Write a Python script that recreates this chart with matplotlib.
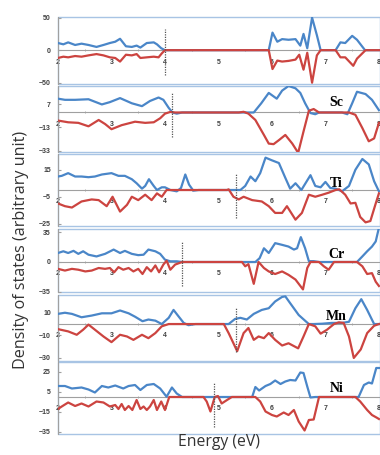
import matplotlib.pyplot as plt
from matplotlib.patches import Rectangle

# spin-resolved DOS, one pair of curves per system (energy in eV)
host_up_e = [2.00, 2.10, 2.19, 2.32, 2.44, 2.57, 2.72, 2.85, 2.97, 3.07, 3.16, 3.27, 3.38, 3.47, 3.54, 3.66, 3.79, 3.85, 3.93, 4.00,
             5.94, 6.01, 6.10, 6.19, 6.31, 6.44, 6.53, 6.59, 6.66, 6.75, 6.84, 6.91,
             7.19, 7.28, 7.37, 7.50, 7.59, 7.74, 8.00]
host_up = [11, 9, 12, 8, 10, 8, 5, 8, 11, 13, 17.5, 6, 5, 7, 4, 11, 12, 9, 3, 0,
           0, 27, 13, 17, 16, 17, 7, 25, 3, 50, 23, 0,
           0, 12, 11, 22, 16, 0, 0]
host_dn_e = [2.00, 2.10, 2.19, 2.32, 2.44, 2.57, 2.72, 2.85, 2.97, 3.07, 3.16, 3.27, 3.38, 3.47, 3.54, 3.66, 3.79, 3.88, 3.94, 4.00,
             5.94, 6.01, 6.10, 6.19, 6.31, 6.44, 6.51, 6.59, 6.66, 6.75, 6.84, 6.91,
             7.19, 7.28, 7.37, 7.52, 7.59, 7.75, 8.00]
host_dn = [-12, -10, -11, -9, -10, -8, -6, -8, -11, -12, -17.5, -7, -8, -6, -12, -11, -10, -11, -5, 0,
           0, -29, -16, -17.5, -16.5, -14.5, -7, -30, -4, -50, -8, 0,
           0, -11, -11, -24, -13, 0, 0]

sc_up_e = [2.00, 2.13, 2.32, 2.57, 2.82, 2.97, 3.16, 3.38, 3.57, 3.72, 3.88, 3.97, 4.07, 4.14, 4.22, 4.32,
           5.66, 5.80, 5.94, 6.09, 6.19, 6.31, 6.44, 6.53, 6.62, 6.72, 6.81, 6.88,
           7.31, 7.41, 7.50, 7.59, 7.75, 7.87, 8.00]
sc_up = [12, 11, 11, 11.5, 7, 9, 12.5, 8, 5.5, 10, 13, 11, 4, 0, -1, 0,
         0, 8, 17, 12, 19, 23, 21, 17, 8, -0.5, -1.5, 0,
         0, -1.5, 8, 18, 16, 11, 2]
sc_dn_e = [2.00, 2.19, 2.38, 2.57, 2.76, 2.88, 3.00, 3.19, 3.44, 3.63, 3.79, 3.91, 4.00, 4.10, 4.19,
           5.38, 5.47, 5.56, 5.69, 5.85, 5.94, 6.03, 6.13, 6.25, 6.38, 6.49, 6.59, 6.69, 6.78, 6.88,
           7.44, 7.56, 7.69, 7.81, 7.91, 8.00]
sc_dn = [-7, -8.5, -9, -12, -6.5, -10, -14.5, -11, -8, -9, -8.5, -5, -1, 0.5, 0,
         0, 0.6, -1, -6.5, -19.5, -27, -27.5, -24, -19.5, -27, -35, -16.5, 1.5, 3, 0,
         0, -2, -13.5, -25, -22.5, -9]

ti_up_e = [2.00, 2.07, 2.19, 2.32, 2.44, 2.57, 2.69, 2.82, 3.00, 3.13, 3.25, 3.38, 3.47, 3.57, 3.63, 3.70, 3.79, 3.85,
           3.94, 4.00, 4.10, 4.22, 4.30, 4.38, 4.45, 4.53, 4.63,
           5.31, 5.41, 5.50, 5.60, 5.69, 5.78, 5.88, 6.00, 6.13, 6.25, 6.34, 6.44, 6.55, 6.72, 6.81, 6.91,
           7.00, 7.09, 7.19, 7.31, 7.44, 7.56, 7.69, 7.81, 7.91, 8.00]
ti_up = [10, 10.5, 12.5, 10, 10, 9.5, 10, 11.5, 12.5, 10.5, 10.5, 8, 5, 1, 3, 8, 3, 0,
         2, 2, 0, -1, 1.5, 11.5, 4, -0.5, 0,
         0, 0, 3, 10, 6.5, 12.5, 24, 22, 20, 9, 1, 5, 0, 11, 3, 2,
         6, 1.5, 1, -1, 3, 15, 23, 19, 6.5, -1]
ti_dn_e = [2.00, 2.13, 2.26, 2.44, 2.63, 2.76, 2.91, 3.02, 3.16, 3.29, 3.38, 3.50, 3.63, 3.75, 3.85, 3.94, 4.03,
           5.16, 5.19, 5.28, 5.38, 5.47, 5.63, 5.81, 5.94, 6.06, 6.19, 6.28, 6.44, 6.56, 6.69, 6.81, 6.94,
           7.06, 7.19, 7.26, 7.37, 7.47, 7.56, 7.65, 7.75, 7.84, 7.94, 8.00]
ti_dn = [-10, -12, -13, -8.5, -7, -7.5, -12, -5, -16, -11, -5, -7.5, -3.5, -7.5, -2.5, -5, 0,
         0, 0.5, -5, -7, -5, -7.5, -8.5, -12, -17, -17, -12, -22, -17, -3.5, -5, -3.5,
         -2, 0, 0.5, -3.5, -10, -9.5, -20, -24, -23, -10, -2.5]

cr_up_e = [2.00, 2.10, 2.19, 2.29, 2.38, 2.47, 2.57, 2.72, 2.88, 3.04, 3.16, 3.25, 3.38, 3.50, 3.60, 3.69, 3.82, 3.91,
           4.00, 4.10, 4.22, 4.32,
           5.69, 5.77, 5.85, 5.94, 6.06, 6.19, 6.31, 6.41, 6.47, 6.54, 6.62, 6.69, 6.78, 6.88,
           7.59, 7.69, 7.78, 7.87, 7.94, 8.00]
cr_up = [10.5, 12.5, 10.5, 13, 9.5, 12.5, 8.5, 6.5, 9.5, 14.5, 10.5, 13, 9.5, 8, 8.5, 14.5, 12.5, 9.5,
         2.7, 0.8, 0.8, 0,
         0, 4.5, 16, 10.5, 22, 20, 18, 14.5, 16, 29, 16, 1, 1, 0,
         0, 6.5, 12.5, 18, 24, 40]
cr_dn_e = [2.00, 2.13, 2.26, 2.38, 2.51, 2.63, 2.76, 2.88, 2.97, 3.05, 3.13, 3.22, 3.32, 3.41, 3.50, 3.58, 3.66, 3.74,
           3.82, 3.89, 3.97, 4.03, 4.10, 4.19, 4.32,
           5.44, 5.50, 5.56, 5.66, 5.75, 5.85, 5.94, 6.06, 6.19, 6.31, 6.44, 6.58, 6.66, 6.72, 6.88, 6.97, 7.06, 7.16,
           7.59, 7.69, 7.78, 7.87, 7.94, 8.00]
cr_dn = [-8, -10, -8, -9, -11, -10, -7, -8, -7, -12, -6, -9, -7, -11, -8, -14, -6, -11,
         -4, -12, -3, 1.5, -9, -3, 0,
         0, -5, -2.5, -25.5, 0, -7, -11, -14, -11, -15, -20.5, -32, -7, 0, 0, -5, -9, 0,
         0, -5, -14, -13, -23, -28]

mn_up_e = [2.00, 2.13, 2.26, 2.44, 2.63, 2.82, 3.00, 3.16, 3.32, 3.44, 3.58, 3.69, 3.82, 3.94, 4.07, 4.16, 4.25, 4.35,
           4.44, 4.57,
           5.19, 5.31, 5.41, 5.53, 5.66, 5.81, 5.94, 6.06, 6.19, 6.25, 6.34, 6.50, 6.63, 6.69, 6.78, 6.94,
           7.12, 7.31, 7.44, 7.56, 7.67, 7.78, 7.91, 8.00]
mn_up = [9, 10, 9, 6, 7.5, 9.5, 9.5, 12, 9.5, 6.5, 2.5, 4, 3, 0, 5.5, 12.5, 7, 1,
         -1, 0,
         0, 4.5, 5.5, 4, 9, 12.5, 14, 20, 24, 24.5, 18.5, 8, 2.5, 0, 0, 0.3,
         1, 1, 2, 14, 22, 12.5, 0, 0]
mn_dn_e = [2.00, 2.19, 2.35, 2.47, 2.57, 2.69, 2.85, 3.00, 3.16, 3.29, 3.41, 3.57, 3.69, 3.82, 3.94, 4.07,
           5.10, 5.19, 5.35, 5.47, 5.56, 5.66, 5.75, 5.85, 5.94, 6.06, 6.19, 6.31, 6.49, 6.59, 6.69, 6.81, 6.91,
           7.03, 7.16, 7.25, 7.34, 7.44, 7.53, 7.66, 7.78, 7.91, 8.00]
mn_dn = [-4.5, -6.5, -9.5, -5, -0.5, -5, -11, -16, -9.5, -11, -14, -9.5, -12.5, -8, -2, 0,
         0, -8, -24, -8, -3.5, -14, -11, -12.5, -8, -14, -19, -17, -21.5, -11, 0, -2, -8.5,
         -5, 0, 1.5, 1, -11, -30, -22.5, -8, -1.5, 0]

ni_up_e = [2.00, 2.13, 2.26, 2.44, 2.57, 2.69, 2.82, 2.94, 3.07, 3.22, 3.32, 3.44, 3.54, 3.66, 3.79, 3.91, 4.03, 4.13,
           4.22, 4.32,
           5.63, 5.69, 5.76, 5.88, 5.97, 6.06, 6.16, 6.25, 6.34, 6.44, 6.53, 6.59, 6.66, 6.72, 6.81,
           7.62, 7.72, 7.81, 7.87, 7.95, 8.00]
ni_up = [11, 11, 8.5, 9.5, 7.5, 4.5, 11, 9.5, 11.5, 8.5, 11, 12, 7, 12, 13, 8.5, 0.3, 9.5,
         3.5, 0,
         0, 10, 6.5, 11, 13, 16.5, 13, 15.5, 17, 16.5, 24.5, 24, 10.5, -0.5, 0,
         0, 12, 14.5, 13.5, 29, 29]
ni_dn_e = [2.00, 2.07, 2.19, 2.32, 2.44, 2.57, 2.72, 2.85, 2.97, 3.07, 3.13, 3.19, 3.25, 3.32, 3.39, 3.47, 3.54, 3.60,
           3.66, 3.72, 3.79, 3.85, 3.93, 4.00, 4.08,
           4.72, 4.78, 4.85, 4.93, 4.99, 5.06, 5.16, 5.25,
           5.69, 5.78, 5.88, 6.00, 6.09, 6.22, 6.31, 6.41, 6.50, 6.61, 6.69, 6.78, 6.88,
           7.56, 7.65, 7.78, 7.87, 7.97, 8.00]
ni_dn = [-12, -9.5, -5.5, -9, -6.5, -9.5, -4.5, -5.5, -9.5, -8, -12, -7, -13, -9, -13, -3, -12, -9.5,
         -13, -9.5, -3, -13, -4.5, -13, 0,
         0, -4.5, -14.5, 0, 1, -6.5, -3, 0,
         0, -4.5, -14.5, -18, -19.5, -15.5, -18, -13, -24.5, -33.5, -23, -22.5, 0,
         0, -4.5, -13, -18, -21, -22]

names = ['', 'Sc', 'Ti', 'Cr', 'Mn', 'Ni']
name_y = [0, 9, 5, 9, 6.5, 8]
name_e = 7.21
fermi_e = [4.00, 4.14, 5.33, 4.32, 5.33, 4.91]
fermi_lo = [-38, -21, -20.7, -28, -24.5, -30]
fermi_hi = [33, 18, 12.6, 24.5, 15, 15]
yticks = [[-50, 0, 50], [-33, -13, 7], [-25, -5, 15], [-35, 0, 35], [-30, -10, 10], [-35, -15, 5, 25]]
ylims = [(-52, 51), (-34.3, 23), (-26.7, 26.7), (-35, 38.5), (-32.7, 25.7), (-37, 35)]
xticks = [2, 3, 4, 5, 6, 7, 8]

curves = [(host_up_e, host_up, host_dn_e, host_dn),
          (sc_up_e, sc_up, sc_dn_e, sc_dn),
          (ti_up_e, ti_up, ti_dn_e, ti_dn),
          (cr_up_e, cr_up, cr_dn_e, cr_dn),
          (mn_up_e, mn_up, mn_dn_e, mn_dn),
          (ni_up_e, ni_up, ni_dn_e, ni_dn)]

BLUE = '#4a86c8'
RED = '#cc4440'
FRAME = '#a8c4e4'
AXIS = '#a0a0a0'

W, H = 380, 455
tops = [17, 86, 154, 229, 295, 362]
bottoms = [84, 152, 226, 292, 361, 434]
left, right = 58, 380

fig = plt.figure(figsize=(W / 100, H / 100), dpi=100)

for i in range(6):
    ax = fig.add_axes([left / W, 1 - bottoms[i] / H, (right - left) / W, (bottoms[i] - tops[i]) / H])
    ue, u, de, d = curves[i]
    ax.plot(ue, u, color=BLUE, lw=1.6, solid_joinstyle='round', zorder=3)
    ax.plot(de, d, color=RED, lw=1.6, solid_joinstyle='round', zorder=4)
    ax.vlines(fermi_e[i], fermi_lo[i], fermi_hi[i], colors='#555555', linestyles=(0, (1, 1)), lw=0.9, zorder=5)
    if names[i]:
        ax.text(name_e, name_y[i], names[i], ha='center', va='center', fontsize=10,
                family='Liberation Serif', weight='bold', color='black', zorder=6)
    ax.set_xlim(2, 8.02)
    ax.set_ylim(*ylims[i])
    ax.set_yticks(yticks[i])
    ax.set_xticks(xticks)
    ax.set_xticks([x + 0.5 for x in xticks[:-1]], minor=True)
    ax.spines['bottom'].set_position(('data', 0))
    ax.spines['bottom'].set_color(AXIS)
    ax.spines['bottom'].set_zorder(1)
    ax.spines['left'].set_color(AXIS)
    ax.spines['top'].set_visible(False)
    ax.spines['right'].set_visible(False)
    ax.add_patch(Rectangle((0, 0), 1, 1, transform=ax.transAxes, fill=False,
                           ec=FRAME, lw=1.0, clip_on=False, zorder=0))
    ax.tick_params(axis='x', which='major', length=0, pad=6, labelsize=5, labelcolor='#404040')
    ax.tick_params(axis='x', which='minor', length=2, direction='inout', color=AXIS)
    ax.tick_params(axis='y', length=2, direction='in', color=AXIS, pad=5, labelsize=5, labelcolor='#404040')
    for lab in ax.get_xticklabels() + ax.get_yticklabels():
        lab.set_family('Liberation Sans')
        lab.set_weight('bold')
    ax.patch.set_alpha(0)

fig.text(21 / W, 1 - 250 / H, 'Density of states (arbitrary unit)', rotation=90,
         ha='center', va='center', fontsize=11.6, family='Open Sans', color='#333333')
fig.text(219 / W, 1 - 442 / H, 'Energy (eV)', ha='center', va='center',
         fontsize=11.3, family='Open Sans', color='#333333')

fig.savefig('out.png', dpi=100)
